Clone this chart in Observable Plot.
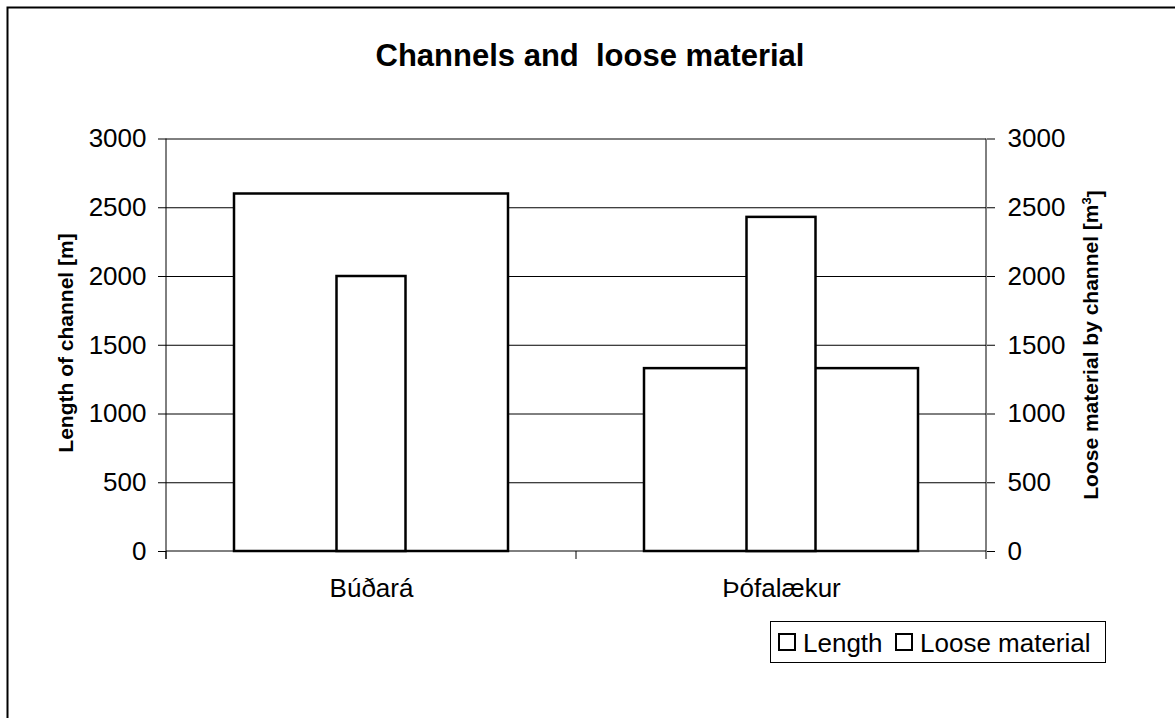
<!DOCTYPE html>
<html>
<head>
<meta charset="utf-8">
<script src="https://cdn.jsdelivr.net/npm/d3@7"></script>
<script src="https://cdn.jsdelivr.net/npm/@observablehq/plot@0.6"></script>
<style>
  html, body { margin: 0; padding: 0; background: #fff; }
  #chart { width: 1175px; height: 718px; overflow: hidden; }
</style>
</head>
<body>
<div id="chart"></div>
<script>
// ---- data ----
const categories = ["Búðará", "Þófalækur"];
const lengthValues = [2600, 1330];      // Length of channel [m]
const looseValues = [2000, 2430];       // Loose material by channel [m3]
const yTicks = [0, 500, 1000, 1500, 2000, 2500, 3000];
const seriesNames = ["Length", "Loose material"];
const titleText = "Channels and  loose material";
const leftTitle = "Length of channel [m]";
const rightTitle = "Loose material by channel [m";

const data = categories.map((c, i) => ({cat: c, length: lengthValues[i], loose: looseValues[i]}));

const FONT = "'Liberation Sans', Arial, Helvetica, sans-serif";

const plot = Plot.plot({
  width: 1175,
  height: 718,
  marginLeft: 166,
  marginRight: 189,
  marginTop: 138.5,
  marginBottom: 167,
  style: {fontFamily: FONT, fontSize: "26px", color: "#000", background: "#fff", overflow: "hidden"},
  x: {domain: categories, paddingInner: 0, paddingOuter: 0, axis: null},
  y: {domain: [0, 3000], axis: null},
  marks: [
    Plot.ruleY(yTicks.filter(d => d > 0), {stroke: "#000", strokeWidth: 1, strokeOpacity: 1}),
    Plot.axisY({anchor: "left", ticks: yTicks, tickSize: 8, tickPadding: 12, tickFormat: d => String(d), label: null, fontSize: 26, stroke: "#000", strokeOpacity: 1}),
    Plot.axisY({anchor: "right", ticks: yTicks, tickSize: 8, tickPadding: 13, tickFormat: d => String(d), label: null, fontSize: 26, stroke: "#000", strokeOpacity: 1}),
    Plot.axisX({anchor: "bottom", tickSize: 0, tickPadding: 27.5, label: null, fontSize: 26}),
    Plot.barY(data, {x: "cat", y: "length", fill: "#fff", stroke: "#000", strokeWidth: 2.5, insetLeft: 68, insetRight: 68}),
    Plot.barY(data, {x: "cat", y: "loose", fill: "#fff", stroke: "#000", strokeWidth: 2.5, insetLeft: 170.5, insetRight: 170.5})
  ]
});

document.getElementById("chart").appendChild(plot);

// ---- decorations drawn from the plot's scales ----
const svg = d3.select(plot);
const xs = plot.scale("x");
const ys = plot.scale("y");
const y0 = ys.apply(0), yTop = ys.apply(3000);
const xLeft = xs.apply(categories[0]);
const bw = xs.bandwidth;
const xRight = xs.apply(categories[categories.length - 1]) + bw;

const g = svg.append("g").attr("stroke", "#000").attr("fill", "none");
// outer chart frame
g.append("path").attr("d", "M7.5,718V7.5H1175").attr("stroke-width", 2);
// y axis lines
g.append("line").attr("x1", xLeft).attr("x2", xLeft).attr("y1", yTop).attr("y2", y0 + 8).attr("stroke-width", 1);
g.append("line").attr("x1", xRight).attr("x2", xRight).attr("y1", yTop).attr("y2", y0 + 8).attr("stroke-width", 1);
// x axis line
g.append("line").attr("x1", xLeft).attr("x2", xRight).attr("y1", y0).attr("y2", y0).attr("stroke-width", 1);
// category boundary ticks
categories.forEach((c, i) => {
  const xb = xs.apply(c);
  g.append("line").attr("x1", xb).attr("x2", xb).attr("y1", y0).attr("y2", y0 + 8).attr("stroke-width", 1);
});

const t = svg.append("g").attr("fill", "#000").style("font-family", FONT);
// title
t.append("text").attr("x", 590).attr("y", 66).attr("text-anchor", "middle")
  .style("font-size", "31px").style("font-weight", "bold").style("white-space", "pre")
  .text(titleText);
// left axis title
t.append("text").attr("transform", "translate(73,343) rotate(-90)").attr("text-anchor", "middle")
  .style("font-size", "21px").style("font-weight", "bold").text(leftTitle);
// right axis title
const rt = t.append("text").attr("transform", "translate(1098,345) rotate(-90)").attr("text-anchor", "middle")
  .style("font-size", "21px").style("font-weight", "bold");
rt.append("tspan").text(rightTitle);
rt.append("tspan").attr("dy", "-0.55em").style("font-size", "13px").text("3");
rt.append("tspan").attr("dy", "0.55em").text("]");

// legend
const lg = svg.append("g");
lg.append("rect").attr("x", 770.5).attr("y", 621.5).attr("width", 335).attr("height", 41)
  .attr("fill", "#fff").attr("stroke", "#000").attr("stroke-width", 1);
const legX = [778, 895];
seriesNames.forEach((name, i) => {
  lg.append("rect").attr("x", legX[i] + 1).attr("y", 634).attr("width", 16).attr("height", 16)
    .attr("fill", "#fff").attr("stroke", "#000").attr("stroke-width", 2);
  lg.append("text").attr("x", legX[i] + 25).attr("y", 652).attr("text-anchor", "start")
    .style("font-family", FONT).style("font-size", "26px").attr("fill", "#000").text(name);
});
</script>
</body>
</html>
